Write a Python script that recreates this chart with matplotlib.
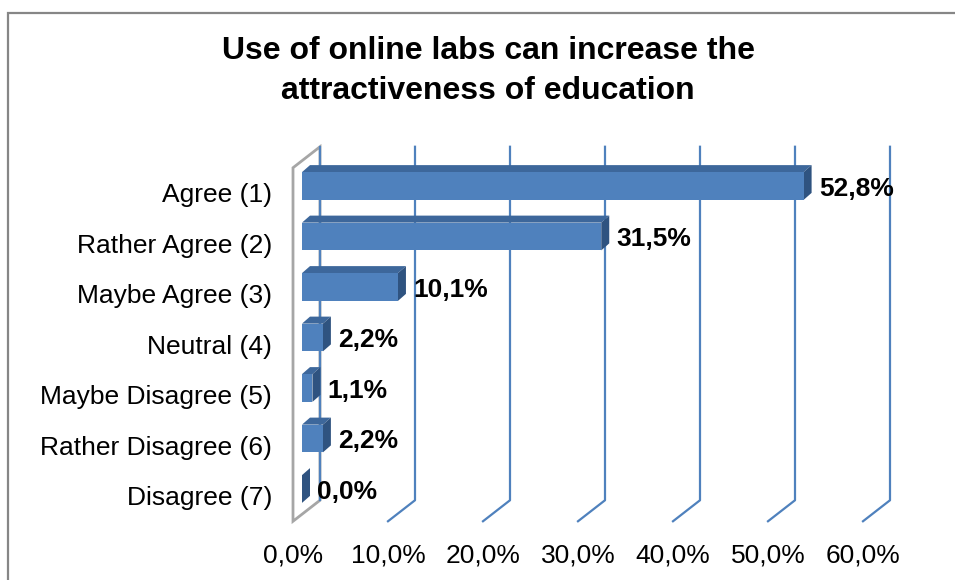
import matplotlib
matplotlib.use("Agg")
import matplotlib.pyplot as plt
from matplotlib.patches import Polygon, Rectangle

# chart data
categories = ["Agree (1)", "Rather Agree (2)", "Maybe Agree (3)", "Neutral (4)",
              "Maybe Disagree (5)", "Rather Disagree (6)", "Disagree (7)"]
shares = [52.8, 31.5, 10.1, 2.2, 1.1, 2.2, 0.0]
tick_values = [0, 10, 20, 30, 40, 50, 60]
title = "Use of online labs can increase the\nattractiveness of education"

plt.rcParams['font.family'] = ['Liberation Sans', 'DejaVu Sans']

# pixel scale of the fake 3d frame
W, H = 955, 580
px_pct = 9.5      # pixels per percent
px_row = 50.5     # pixels per category
x0, y0 = 302, 186  # pixel of 0% / first category on the bar plane
depth_dx, depth_dy = 27, -21   # front -> back offset in pixels
front = 1 / 3                  # bar plane sits a third into the depth
bar_dx, bar_dy = 8, -7         # bar thickness
bar_h = 0.55

blue = '#4f81bd'
top_col = '#3d679b'
side_col = '#2f5380'
wall_col = '#a6a6a6'


def shift(x, y, frac):
    # move a point from the bar plane to another depth (0 front, 1 back)
    d = frac - front
    return x + d * depth_dx / px_pct, y + d * depth_dy / px_row


fig = plt.figure(figsize=(W / 100, H / 100), dpi=100)
xl, xr = -2, 64
yt, yb = -1.2, 6.85
ax = fig.add_axes([(x0 + xl * px_pct) / W, 1 - (y0 + yb * px_row) / H,
                   (xr - xl) * px_pct / W, (yb - yt) * px_row / H])
ax.set_xlim(xl, xr)
ax.set_ylim(yb, yt)
for s in ax.spines.values():
    s.set_visible(False)

n = len(categories)
top, floor = -0.5, n - 0.5

# left wall
wall = [shift(0, top, 0), shift(0, top, 1), shift(0, floor, 1), shift(0, floor, 0)]
ax.add_patch(Polygon(wall, closed=True, facecolor='white', edgecolor=wall_col,
                     lw=2, zorder=1))

# gridlines on the back wall and floor
for t in tick_values:
    bx1, by1 = shift(t, top, 1)
    bx2, by2 = shift(t, floor, 1)
    if t == 0:
        ax.plot([bx1, bx2], [by1, by2], color=blue, lw=1.6, zorder=2)
        continue
    fx, fy = shift(t, floor, 0)
    ax.plot([bx1, bx2, fx], [by1, by2, fy], color=blue, lw=1.6, zorder=2)

# bars
dx = bar_dx / px_pct
dy = bar_dy / px_row
for i, v in enumerate(shares):
    yt_, yb_ = i - bar_h / 2, i + bar_h / 2
    ax.add_patch(Polygon([(0, yt_), (v, yt_), (v + dx, yt_ + dy), (dx, yt_ + dy)],
                         facecolor=top_col, edgecolor='none', zorder=3))
    ax.add_patch(Polygon([(v, yt_), (v, yb_), (v + dx, yb_ + dy), (v + dx, yt_ + dy)],
                         facecolor=side_col, edgecolor='none', zorder=3))
    if v > 0:
        ax.add_patch(Rectangle((0, yt_), v, bar_h, facecolor=blue,
                               edgecolor='none', zorder=4))
    ax.text(v + 1.6, i + 0.05, f"{v:.1f}%".replace('.', ','), fontsize=19,
            fontweight='bold', ha='left', va='center', zorder=5)

# axis labels sit on the front plane
fx_off = -front * depth_dx / px_pct
fy_off = -front * depth_dy / px_row
ax.set_yticks([i + fy_off for i in range(n)])
ax.set_yticklabels(categories, fontsize=19)
ax.set_xticks([t + fx_off for t in tick_values])
ax.set_xticklabels([f"{t:.1f}%".replace('.', ',') for t in tick_values], fontsize=19)
ax.tick_params(axis='y', length=0, pad=8)
ax.tick_params(axis='x', length=0, pad=8)

fig.text(488 / W, 1 - 71 / H, title, fontsize=23, fontweight='bold',
         ha='center', va='center', linespacing=1.42)

# outer chart frame (only left and top edges are inside the picture)
fig.patches.append(Rectangle((8 / W, -0.1), 1.2, 1.1 - 13 / H, fill=False,
                             edgecolor='#868686', lw=1.6,
                             transform=fig.transFigure, figure=fig))

fig.savefig("out.png", dpi=100)
